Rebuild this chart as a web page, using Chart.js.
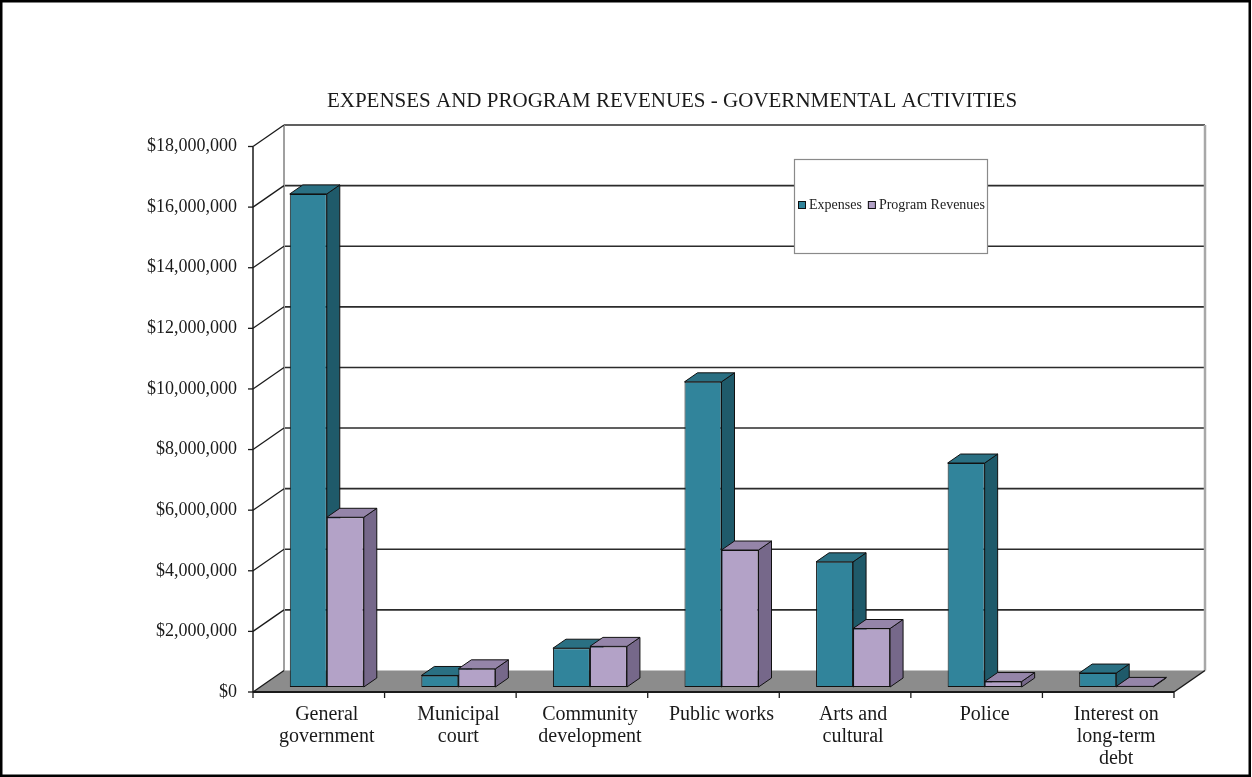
<!DOCTYPE html>
<html>
<head>
<meta charset="utf-8">
<script src="https://cdn.jsdelivr.net/npm/chart.js@4.4.1/dist/chart.umd.min.js"></script>
<style>
  html, body { margin: 0; padding: 0; background: #fff; }
  canvas { display: block; }
</style>
</head>
<body>
<canvas id="mycanvas" width="1252" height="777"></canvas>
<script>
var chartTitle = 'EXPENSES AND PROGRAM REVENUES - GOVERNMENTAL ACTIVITIES';
var categories = [
  ['General', 'government'],
  ['Municipal', 'court'],
  ['Community', 'development'],
  'Public works',
  ['Arts and', 'cultural'],
  'Police',
  ['Interest on', 'long-term', 'debt']
];
var expenses = [16270000, 380000, 1280000, 10070000, 4130000, 7390000, 460000];
var programRevenues = [5600000, 600000, 1340000, 4520000, 1930000, 180000, 20000];
var yTicks = [0, 2000000, 4000000, 6000000, 8000000, 10000000, 12000000, 14000000, 16000000, 18000000];

var serif = "'Liberation Serif', 'Times New Roman', serif";
Chart.defaults.font.family = serif;
Chart.defaults.color = '#222';

// face colours: front, side, top
var shades = [
  { front: '#31849b', side: '#1f5a6a', top: '#2a7083' },
  { front: '#b3a2c7', side: '#76688a', top: '#9585a9' }
];

// offsets of the other planes from the plane the bars stand in
var FRONT = { dx: -8, dy: 5 };
var BACK = { dx: 23, dy: -16.5 };
var DEPTH = { dx: 13, dy: -9 };

function poly(ctx, pts, fill, stroke, lw) {
  ctx.beginPath();
  ctx.moveTo(pts[0][0], pts[0][1]);
  for (var i = 1; i < pts.length; i++) ctx.lineTo(pts[i][0], pts[i][1]);
  ctx.closePath();
  if (fill) { ctx.fillStyle = fill; ctx.fill(); }
  if (stroke) { ctx.strokeStyle = stroke; ctx.lineWidth = lw || 1; ctx.stroke(); }
}

function line(ctx, x1, y1, x2, y2, color, lw) {
  ctx.beginPath();
  ctx.moveTo(x1, y1);
  ctx.lineTo(x2, y2);
  ctx.strokeStyle = color;
  ctx.lineWidth = lw;
  ctx.stroke();
}

var box3d = {
  id: 'box3d',
  beforeDatasetsDraw: function(chart) {
    var ctx = chart.ctx, a = chart.chartArea, ys = chart.scales.y;
    var yMin = yTicks[0], yMax = yTicks[yTicks.length - 1];
    var L = a.left + FRONT.dx, R = a.right + FRONT.dx;
    var bL = a.left + BACK.dx, bR = a.right + BACK.dx;
    var wx = BACK.dx - FRONT.dx, wy = BACK.dy - FRONT.dy;
    ctx.save();

    // back wall
    var bTop = ys.getPixelForValue(yMax) + BACK.dy;
    var bBot = ys.getPixelForValue(yMin) + BACK.dy;
    ctx.fillStyle = '#fff';
    ctx.fillRect(bL, bTop, bR - bL, bBot - bTop);
    yTicks.forEach(function(v) {
      if (v === yMin) return;
      var py = ys.getPixelForValue(v) + BACK.dy;
      line(ctx, bL, py, bR, py, '#2b2b2b', 1.6);
    });
    line(ctx, bL, bTop, bL, bBot, '#a0a0a0', 2);
    line(ctx, bR, bTop, bR, bBot, '#a8a8a8', 2.5);

    // left side wall
    yTicks.forEach(function(v) {
      var py = ys.getPixelForValue(v) + FRONT.dy;
      if (v !== yMin) line(ctx, L, py, L + wx, py + wy, '#1a1a1a', 1.3);
      line(ctx, L - 5, py, L, py, '#1a1a1a', 1.3);
    });
    var fTop = ys.getPixelForValue(yMax) + FRONT.dy;
    var f0 = ys.getPixelForValue(yMin) + FRONT.dy;
    line(ctx, L, fTop, L, f0, '#1a1a1a', 1.5);

    // floor
    poly(ctx, [[L, f0], [R, f0], [R + wx, f0 + wy], [L + wx, f0 + wy]], '#8c8c8c', null);
    line(ctx, L, f0, R, f0, '#1a1a1a', 2);
    line(ctx, R, f0, R + wx, f0 + wy, '#1a1a1a', 1.5);
    line(ctx, L, f0, L + wx, f0 + wy, '#1a1a1a', 1.3);
    var n = chart.data.labels.length;
    for (var k = 0; k <= n; k++) {
      var tx = L + k * (R - L) / n;
      line(ctx, tx, f0, tx, f0 + 6, '#1a1a1a', 1.3);
    }

    // bar tops and sides, left to right
    for (var i = 0; i < n; i++) {
      chart.data.datasets.forEach(function(ds, d) {
        var bar = chart.getDatasetMeta(d).data[i];
        var p = bar.getProps(['x', 'y', 'base', 'width'], true);
        var l = p.x - p.width / 2, r = p.x + p.width / 2;
        var sh = shades[d];
        poly(ctx, [[r, p.y], [r + DEPTH.dx, p.y + DEPTH.dy], [r + DEPTH.dx, p.base + DEPTH.dy], [r, p.base]], sh.side, '#111', 1);
        poly(ctx, [[l, p.y], [r, p.y], [r + DEPTH.dx, p.y + DEPTH.dy], [l + DEPTH.dx, p.y + DEPTH.dy]], sh.top, '#111', 1);
      });
    }
    ctx.restore();
  },
  afterDraw: function(chart) {
    var ctx = chart.ctx;
    ctx.save();
    // title
    ctx.font = '21px ' + serif;
    ctx.fillStyle = '#1a1a1a';
    ctx.textAlign = 'center';
    ctx.textBaseline = 'middle';
    ctx.fillText(chartTitle, 672, 101);
    // legend box
    ctx.textAlign = 'left';
    ctx.fillStyle = '#fff';
    ctx.fillRect(794, 159, 193, 94);
    ctx.strokeStyle = '#8a8a8a';
    ctx.lineWidth = 1.2;
    ctx.strokeRect(794.5, 159.5, 193, 94);
    ctx.font = '14px ' + serif;
    var lx = 798;
    chart.data.datasets.forEach(function(ds) {
      ctx.fillStyle = ds.backgroundColor;
      ctx.fillRect(lx, 201, 8, 8);
      ctx.strokeStyle = '#111';
      ctx.lineWidth = 1;
      ctx.strokeRect(lx + 0.5, 201.5, 7, 7);
      ctx.fillStyle = '#222';
      ctx.fillText(ds.label, lx + 11, 205);
      lx += 11 + ctx.measureText(ds.label).width + 6;
    });
    // outer frame
    ctx.strokeStyle = '#000';
    ctx.lineWidth = 2.5;
    ctx.strokeRect(1.25, 1.25, 1248.5, 774.5);
    ctx.restore();
  }
};

var chartdata = {
  labels: categories,
  datasets: [
    {
      label: 'Expenses',
      backgroundColor: shades[0].front,
      borderColor: '#111',
      borderWidth: 1,
      borderSkipped: false,
      data: expenses
    },
    {
      label: 'Program Revenues',
      backgroundColor: shades[1].front,
      borderColor: '#111',
      borderWidth: 1,
      borderSkipped: false,
      data: programRevenues
    }
  ]
};

var ctx = document.getElementById('mycanvas');
var BarGraph = new Chart(ctx, {
  type: 'bar',
  data: chartdata,
  plugins: [box3d],
  options: {
    responsive: false,
    animation: false,
    devicePixelRatio: 1,
    layout: { padding: { left: 0, right: 70, top: 141.5, bottom: 0 } },
    categoryPercentage: 0.5625,
    barPercentage: 1,
    plugins: {
      legend: { display: false },
      tooltip: { enabled: false },
      title: { display: false }
    },
    scales: {
      x: {
        grid: { display: false, drawTicks: false },
        border: { display: false },
        ticks: {
          autoSkip: false,
          maxRotation: 0,
          padding: 17,
          color: '#1a1a1a',
          font: { family: serif, size: 20, lineHeight: '22px' }
        },
        afterFit: function(scale) { scale.height = 90; }
      },
      y: {
        min: yTicks[0],
        max: yTicks[yTicks.length - 1],
        grid: { display: false, drawTicks: false },
        border: { display: false },
        ticks: {
          stepSize: 2000000,
          padding: 24,
          labelOffset: 5,
          color: '#1a1a1a',
          font: { family: serif, size: 18 },
          callback: function(v) { return '$' + Number(v).toLocaleString('en-US'); }
        },
        afterFit: function(scale) { scale.width = 261; }
      }
    }
  }
});
</script>
</body>
</html>
